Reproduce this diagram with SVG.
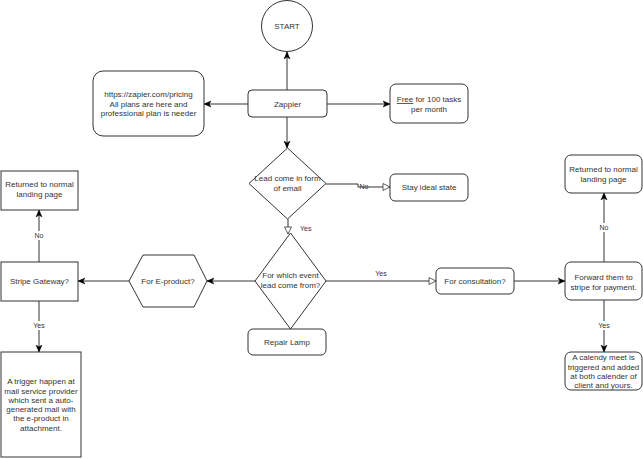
<svg xmlns="http://www.w3.org/2000/svg" width="643" height="459" viewBox="0 0 643 459">
<style>
.n{fill:#fff;stroke:#333;stroke-width:1}
.t{font-family:"Liberation Sans",Arial,sans-serif;font-size:8px;fill:#333;text-anchor:middle}
.l{font-family:"Liberation Sans",Arial,sans-serif;font-size:7px;fill:#333;text-anchor:middle}
.c{fill:none;stroke:#333;stroke-width:1}
.bg{fill:#fff}
</style>
<defs>
<marker id="af" markerUnits="userSpaceOnUse" markerWidth="8" markerHeight="8" refX="7" refY="4" orient="auto">
<path d="M0,1 L7,4 L0,7 L2,4 z" fill="#000" stroke="#000" stroke-width="0.5"/>
</marker>
<marker id="ah" markerUnits="userSpaceOnUse" markerWidth="9" markerHeight="9" refX="8" refY="4.5" orient="auto">
<path d="M1,1 L8,4.5 L1,8 z" fill="#fff" stroke="#333" stroke-width="0.8"/>
</marker>
</defs>
<rect width="643" height="459" fill="#fff"/>
<g id="connectors">
<line class="c" x1="287" y1="90" x2="287" y2="52" marker-end="url(#af)"/>
<line class="c" x1="248" y1="104" x2="204" y2="104" marker-end="url(#af)"/>
<line class="c" x1="327" y1="104" x2="390" y2="104" marker-end="url(#af)"/>
<line class="c" x1="287" y1="117" x2="287" y2="148" marker-end="url(#af)"/>
<polyline class="c" points="326,184 358,184 358,187 390,187" marker-end="url(#ah)"/>
<text class="l" x="364" y="189">No</text>
<line class="c" x1="288" y1="219" x2="288" y2="234" marker-end="url(#ah)"/>
<text class="l" x="300" y="231" text-anchor="start" style="text-anchor:start">Yes</text>
<line class="c" x1="255" y1="281" x2="207" y2="281" marker-end="url(#af)"/>
<line class="c" x1="326" y1="281" x2="436" y2="281" marker-end="url(#ah)"/>
<text class="l" x="381" y="276">Yes</text>
<line class="c" x1="514" y1="281" x2="565" y2="281" marker-end="url(#af)"/>
<line class="c" x1="604" y1="262" x2="604" y2="193" marker-end="url(#af)"/>
<rect class="bg" x="597" y="223" width="14" height="9"/>
<text class="l" x="604" y="230">No</text>
<line class="c" x1="604" y1="300" x2="604" y2="352" marker-end="url(#af)"/>
<rect class="bg" x="596" y="321" width="16" height="9"/>
<text class="l" x="604" y="328">Yes</text>
<line class="c" x1="129" y1="281" x2="78" y2="281" marker-end="url(#af)"/>
<line class="c" x1="39" y1="262" x2="39" y2="210" marker-end="url(#af)"/>
<rect class="bg" x="32" y="231" width="14" height="9"/>
<text class="l" x="39" y="238">No</text>
<line class="c" x1="39" y1="301" x2="39" y2="352" marker-end="url(#af)"/>
<rect class="bg" x="31" y="321" width="16" height="9"/>
<text class="l" x="39" y="328">Yes</text>
</g>
<g id="start">
<circle class="n" cx="287" cy="26" r="25.5"/>
<text class="t" x="287" y="29">START</text>
</g>
<g id="zappier">
<rect class="n" x="248" y="90" width="79" height="27" rx="4"/>
<text class="t" x="287.5" y="107">Zappier</text>
</g>
<g id="pricing">
<rect class="n" x="93" y="71" width="111" height="65" rx="10"/>
<text class="t" x="148.5" y="97">https://zapier.com/pricing</text>
<text class="t" x="148.5" y="106.5">All plans are here and</text>
<text class="t" x="148.5" y="116">professional plan is needer</text>
</g>
<g id="free">
<rect class="n" x="390" y="84" width="78" height="39" rx="6"/>
<text class="t" x="429" y="102"><tspan text-decoration="underline">Free</tspan> for 100 tasks</text>
<text class="t" x="429" y="111.5">per month</text>
</g>
<g id="email-decision">
<polygon class="n" points="287.5,148 326,183.5 287.5,219 249,183.5"/>
<text class="t" x="287.5" y="181">Lead come in form</text>
<text class="t" x="287.5" y="190.5">of email</text>
</g>
<g id="stay">
<rect class="n" x="390" y="174" width="78" height="27" rx="5"/>
<text class="t" x="429" y="190">Stay ideal state</text>
</g>
<g id="event-decision">
<polygon class="n" points="290.5,233 326,281 290.5,329 255,281"/>
<text class="t" x="290.5" y="278">For which event</text>
<text class="t" x="290.5" y="287.5">lead come from?</text>
</g>
<g id="repair">
<rect class="n" x="248" y="329" width="78" height="26" rx="5"/>
<text class="t" x="287" y="345">Repair Lamp</text>
</g>
<g id="eproduct">
<polygon class="n" points="129,281 143,255 194,255 207,281 194,307 143,307"/>
<text class="t" x="168" y="284">For E-product?</text>
</g>
<g id="consultation">
<rect class="n" x="436" y="268" width="78" height="26" rx="5"/>
<text class="t" x="475" y="284">For consultation?</text>
</g>
<g id="forward">
<rect class="n" x="565" y="262" width="77" height="38" rx="6"/>
<text class="t" x="603.5" y="280">Forward them to</text>
<text class="t" x="603.5" y="289.5">stripe for payment.</text>
</g>
<g id="returned-right">
<rect class="n" x="565" y="155" width="77" height="38" rx="6"/>
<text class="t" x="603.5" y="172">Returned to normal</text>
<text class="t" x="603.5" y="181.5">landing page</text>
</g>
<g id="calendly">
<rect class="n" x="565" y="352" width="77" height="38" rx="6"/>
<text class="t" x="603.5" y="360">A calendy meet is</text>
<text class="t" x="603.5" y="369.5">triggered and added</text>
<text class="t" x="603.5" y="379">at both calender of</text>
<text class="t" x="603.5" y="388">client and yours.</text>
</g>
<g id="stripe">
<rect class="n" x="1" y="262" width="77" height="39"/>
<text class="t" x="39.5" y="284">Stripe Gateway?</text>
</g>
<g id="returned-left">
<rect class="n" x="1" y="171" width="77" height="39"/>
<text class="t" x="39.5" y="187">Returned to normal</text>
<text class="t" x="39.5" y="196.5">landing page</text>
</g>
<g id="trigger">
<rect class="n" x="1" y="352" width="80" height="105"/>
<text class="t" x="41" y="384">A trigger happen at</text>
<text class="t" x="41" y="393.5">mail service provider</text>
<text class="t" x="41" y="403">which sent a auto-</text>
<text class="t" x="41" y="412">generated mail with</text>
<text class="t" x="41" y="421">the e-product in</text>
<text class="t" x="41" y="430.5">attachment.</text>
</g>
</svg>
